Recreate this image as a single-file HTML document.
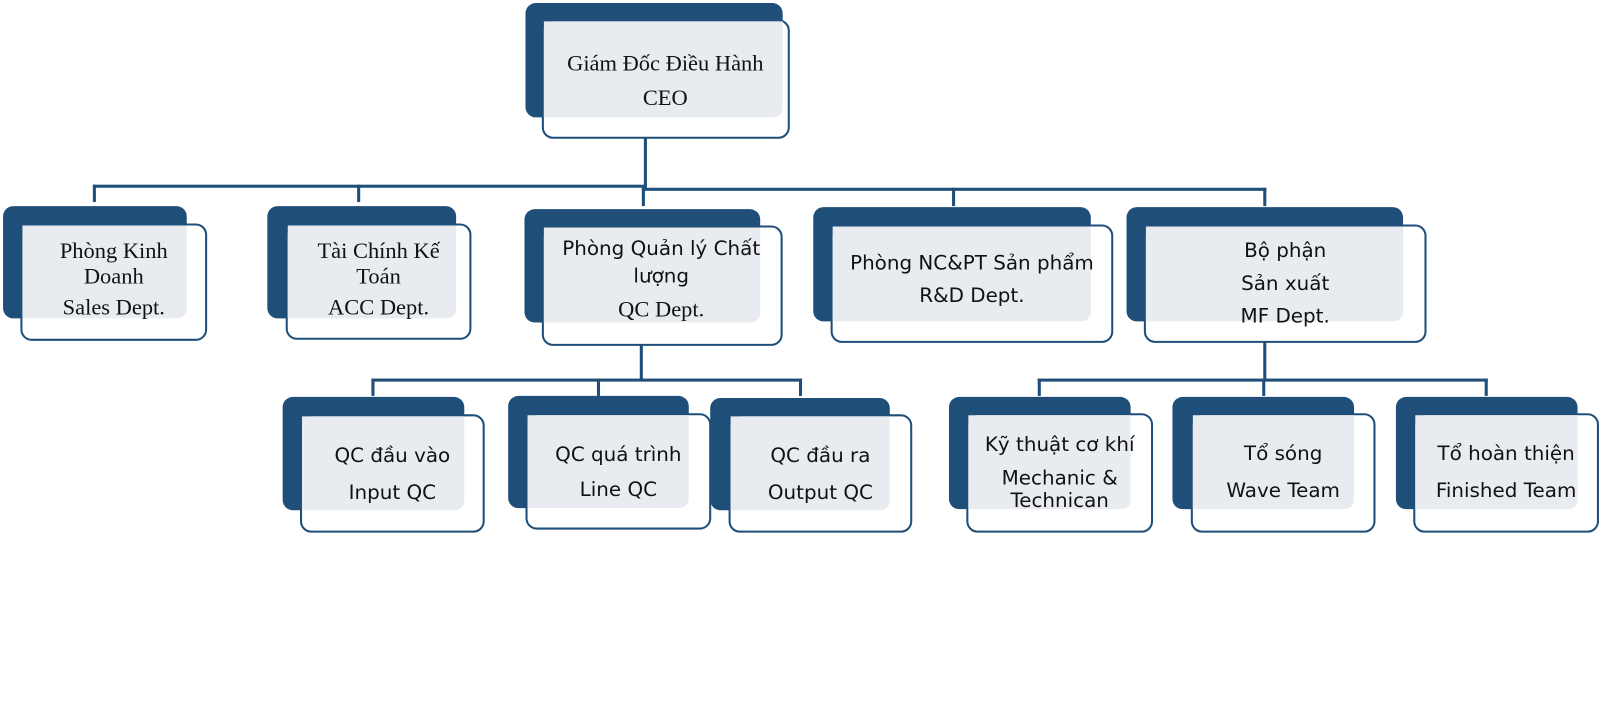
<!DOCTYPE html>
<html><head><meta charset="utf-8"><style>
body{margin:0;width:1600px;height:726px;background:#fff;position:relative;overflow:hidden}
#w{position:absolute;left:0;top:0;width:1568px;height:712px;transform:scale(1.0204);transform-origin:0 0}
.d{position:absolute;background:#1f4e79;border-radius:10px}
.f{position:absolute;background:#fff;border:2.5px solid #1f4e79;border-radius:11px;box-sizing:border-box}
.o{position:absolute;background:#e8ecf1;border-radius:0 0 9px 0}
.t{position:absolute;display:flex;flex-direction:column;justify-content:center;align-items:center;text-align:center;color:#111;white-space:nowrap}
.s{font-family:"DejaVu Sans","Liberation Sans",sans-serif;font-size:19.5px}
.r{font-family:"Liberation Serif",serif;font-size:22px}
.l{position:absolute;background:#1f4e79}
</style></head><body><div id="w">
<div class="l" style="left:631px;top:135px;width:3px;height:49px"></div>
<div class="l" style="left:91px;top:181px;width:543px;height:3px"></div>
<div class="l" style="left:91px;top:181px;width:3px;height:17px"></div>
<div class="l" style="left:350px;top:181px;width:3px;height:17px"></div>
<div class="l" style="left:629px;top:184px;width:612px;height:3px"></div>
<div class="l" style="left:629px;top:184px;width:3px;height:18px"></div>
<div class="l" style="left:933px;top:184px;width:3px;height:18px"></div>
<div class="l" style="left:1238px;top:184px;width:3px;height:18px"></div>
<div class="l" style="left:627px;top:338px;width:3px;height:35px"></div>
<div class="l" style="left:364px;top:371px;width:422px;height:3px"></div>
<div class="l" style="left:364px;top:371px;width:3px;height:17px"></div>
<div class="l" style="left:585px;top:371px;width:3px;height:17px"></div>
<div class="l" style="left:783px;top:371px;width:3px;height:17px"></div>
<div class="l" style="left:1238px;top:335px;width:3px;height:38px"></div>
<div class="l" style="left:1017px;top:371px;width:441px;height:3px"></div>
<div class="l" style="left:1017px;top:371px;width:3px;height:17px"></div>
<div class="l" style="left:1237px;top:371px;width:3px;height:17px"></div>
<div class="l" style="left:1455px;top:371px;width:3px;height:17px"></div>

<div class="d" style="left:515px;top:3px;width:252px;height:112px"></div>
<div class="f" style="left:531px;top:19px;width:243px;height:117px"></div>
<div class="o" style="left:533px;top:21px;width:234px;height:94px"></div>
<div class="t r" style="left:533px;top:44px;width:238px;height:70px;line-height:34px">Giám Đốc Điều Hành<br>CEO</div>

<div class="d" style="left:3px;top:202px;width:180px;height:110px"></div>
<div class="f" style="left:20px;top:219px;width:183px;height:115px"></div>
<div class="o" style="left:22px;top:221px;width:161px;height:91px"></div>
<div class="t r" style="left:22px;top:233px;width:179px;height:86px;line-height:25px">Phòng Kinh<br>Doanh<br><span style="line-height:36px">Sales Dept.</span></div>

<div class="d" style="left:262px;top:202px;width:185px;height:110px"></div>
<div class="f" style="left:280px;top:219px;width:182px;height:114px"></div>
<div class="o" style="left:282px;top:221px;width:165px;height:91px"></div>
<div class="t r" style="left:282px;top:233px;width:178px;height:86px;line-height:25px">Tài Chính Kế<br>Toán<br><span style="line-height:36px">ACC Dept.</span></div>

<div class="d" style="left:514px;top:205px;width:231px;height:111px"></div>
<div class="f" style="left:531px;top:221px;width:236px;height:118px"></div>
<div class="o" style="left:533px;top:223px;width:212px;height:93px"></div>
<div class="t" style="left:533px;top:231px;width:230px;height:90px;line-height:27px"><span class="s">Phòng Quản lý Chất<br>lượng</span><span class="r" style="line-height:38px">QC Dept.</span></div>

<div class="d" style="left:797px;top:203px;width:272px;height:112px"></div>
<div class="f" style="left:814px;top:220px;width:277px;height:116px"></div>
<div class="o" style="left:816px;top:222px;width:253px;height:93px"></div>
<div class="t s" style="left:816px;top:244px;width:273px;height:60px;line-height:32px">Phòng NC&amp;PT Sản phẩm<br>R&amp;D Dept.</div>

<div class="d" style="left:1104px;top:203px;width:271px;height:112px"></div>
<div class="f" style="left:1121px;top:220px;width:277px;height:116px"></div>
<div class="o" style="left:1123px;top:222px;width:252px;height:93px"></div>
<div class="t s" style="left:1123px;top:228px;width:273px;height:100px;line-height:32px">Bộ phận<br>Sản xuất<br>MF Dept.</div>

<div class="d" style="left:277px;top:389px;width:178px;height:111px"></div>
<div class="f" style="left:294px;top:406px;width:181px;height:116px"></div>
<div class="o" style="left:296px;top:408px;width:159px;height:92px"></div>
<div class="t s" style="left:296px;top:430px;width:177px;height:70px;line-height:36px">QC đầu vào<br>Input QC</div>

<div class="d" style="left:498px;top:388px;width:177px;height:110px"></div>
<div class="f" style="left:515px;top:405px;width:182px;height:114px"></div>
<div class="o" style="left:517px;top:407px;width:158px;height:91px"></div>
<div class="t s" style="left:517px;top:428px;width:178px;height:70px;line-height:34px">QC quá trình<br>Line QC</div>

<div class="d" style="left:696px;top:390px;width:176px;height:110px"></div>
<div class="f" style="left:714px;top:406px;width:180px;height:116px"></div>
<div class="o" style="left:716px;top:408px;width:156px;height:92px"></div>
<div class="t s" style="left:716px;top:430px;width:176px;height:70px;line-height:36px">QC đầu ra<br>Output QC</div>

<div class="d" style="left:930px;top:389px;width:178px;height:110px"></div>
<div class="f" style="left:947px;top:405px;width:183px;height:117px"></div>
<div class="o" style="left:949px;top:407px;width:159px;height:92px"></div>
<div class="t s" style="left:949px;top:418px;width:179px;height:90px;line-height:25px">Kỹ thuật cơ khí<br><span style="line-height:42px;display:block;height:30px">Mechanic &amp;</span>Technican</div>

<div class="d" style="left:1149px;top:389px;width:178px;height:110px"></div>
<div class="f" style="left:1167px;top:405px;width:181px;height:117px"></div>
<div class="o" style="left:1169px;top:407px;width:158px;height:92px"></div>
<div class="t s" style="left:1169px;top:428px;width:177px;height:70px;line-height:36px">Tổ sóng<br>Wave Team</div>

<div class="d" style="left:1368px;top:389px;width:178px;height:110px"></div>
<div class="f" style="left:1385px;top:405px;width:182px;height:117px"></div>
<div class="o" style="left:1387px;top:407px;width:159px;height:92px"></div>
<div class="t s" style="left:1387px;top:428px;width:178px;height:70px;line-height:36px">Tổ hoàn thiện<br>Finished Team</div>
</div></body></html>
